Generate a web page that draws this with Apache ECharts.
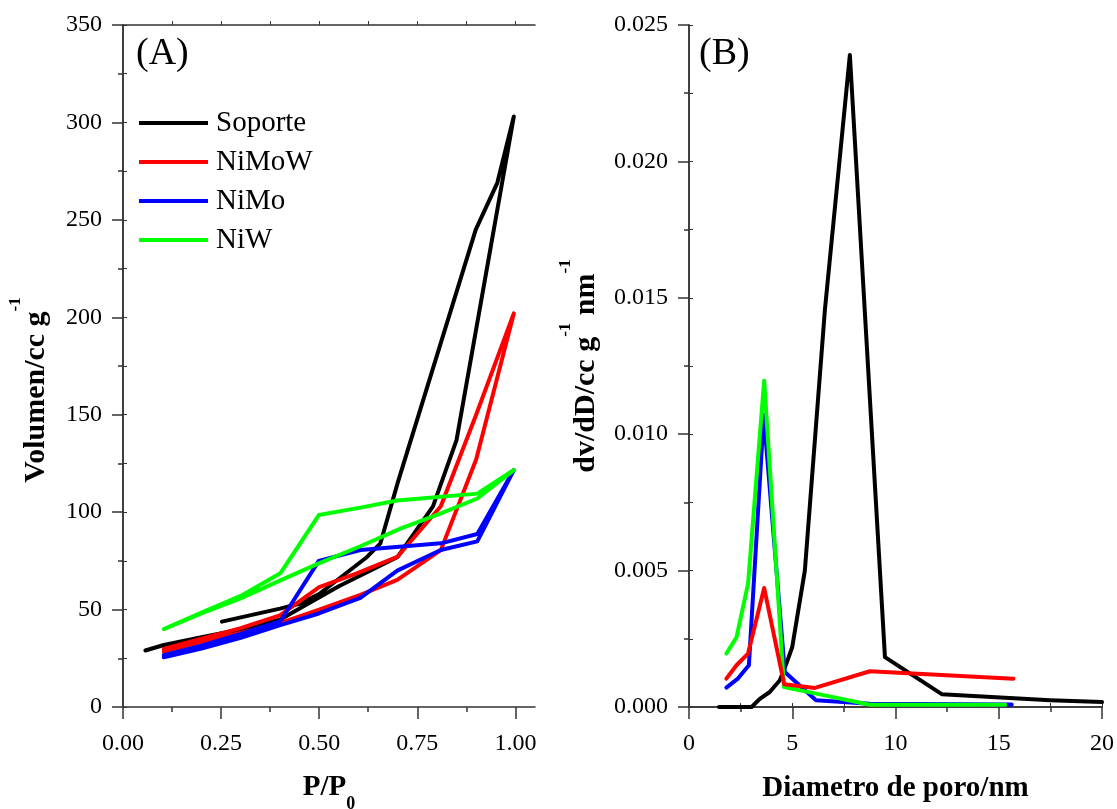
<!DOCTYPE html>
<html>
<head>
<meta charset="utf-8">
<script src="https://cdn.jsdelivr.net/npm/echarts@6/dist/echarts.min.js"></script>
<style>
  html, body { margin: 0; padding: 0; background: #ffffff; }
  #chart { width: 1117px; height: 809px; }
</style>
</head>
<body>
<div id="chart"></div>
<script>
// ---- (A) N2 isotherms: [P/P0, volume cc/g], adsorption branch followed by desorption branch
const soporteIso = [
  [0.057, 29], [0.104, 31.8], [0.2, 35.8], [0.3, 39.8], [0.4, 44.8], [0.45, 50.5], [0.55, 62],
  [0.7, 77], [0.79, 103], [0.85, 137], [0.996, 303],
  [0.954, 269], [0.899, 245], [0.7, 115], [0.656, 84], [0.622, 77], [0.5, 58], [0.45, 53],
  [0.4, 50.5], [0.252, 43.8]
];
const nimowIso = [
  [0.104, 28.4], [0.2, 33.5], [0.3, 38], [0.4, 43], [0.5, 50], [0.605, 57.5], [0.699, 65.2],
  [0.81, 80.5], [0.9, 127], [0.996, 202],
  [0.9, 150], [0.81, 103], [0.699, 77], [0.596, 68.6], [0.5, 61.5], [0.4, 47], [0.3, 40.5],
  [0.2, 35], [0.104, 29.8]
];
const nimoIso = [
  [0.104, 25.5], [0.2, 30], [0.3, 35.5], [0.401, 42], [0.499, 48], [0.605, 56], [0.699, 70],
  [0.81, 80.6], [0.903, 85], [0.996, 121.6],
  [0.903, 88.8], [0.81, 84], [0.605, 80.6], [0.499, 75], [0.401, 44], [0.3, 37.5], [0.2, 31.5],
  [0.104, 26.6]
];
const niwIso = [
  [0.104, 40], [0.2, 48], [0.3, 55.7], [0.401, 65], [0.499, 73.7], [0.605, 82.5], [0.707, 91.5],
  [0.81, 99.4], [0.903, 107], [0.996, 121.6],
  [0.903, 109.5], [0.699, 106], [0.605, 102.3], [0.499, 98.5], [0.401, 68.6], [0.3, 57],
  [0.2, 48.5], [0.104, 40]
];

// ---- (B) pore size distributions: [diameter nm, dv/dD]
const soportePsd = [
  [1.45, 0], [3.03, 0], [3.43, 0.0003], [3.91, 0.00055], [4.4, 0.00098], [4.72, 0.0016],
  [5.0, 0.0022], [5.61, 0.005], [6.58, 0.01455], [7.79, 0.0239], [9.49, 0.00183],
  [12.24, 0.00047], [17.49, 0.00025], [20, 0.00018]
];
const nimowPsd = [
  [1.81, 0.00104], [2.3, 0.00153], [2.86, 0.00196], [3.64, 0.00436], [4.61, 0.00083],
  [6.1, 0.0007], [8.76, 0.00131], [15.71, 0.00104]
];
const nimoPsd = [
  [1.81, 0.00071], [2.38, 0.00105], [2.9, 0.00153], [3.62, 0.0107], [4.64, 0.00128],
  [6.15, 0.00025], [8.76, 0.00012], [15.63, 0.00009]
];
const niwPsd = [
  [1.81, 0.00196], [2.3, 0.00255], [2.86, 0.00452], [3.64, 0.01196], [4.6, 0.00073],
  [6.1, 0.0005], [8.76, 0.00008], [15.31, 0.00008]
];

// ---- axis tick values
const pressureMajor = [0, 0.25, 0.5, 0.75, 1.0];
const pressureMinor = [0.125, 0.375, 0.625, 0.875];
const pressureTop = [0.125, 0.25, 0.375, 0.5, 0.625, 0.75, 0.875, 1.0];

const seriesNames = ['Soporte', 'NiMoW', 'NiMo', 'NiW'];
const seriesColors = { Soporte: '#000000', NiMoW: '#ff0000', NiMo: '#0000ff', NiW: '#00ff00' };

const FONT = '"Liberation Serif", "Times New Roman", serif';
const AXIS_COLOR = '#333333';

const chart = echarts.init(document.getElementById('chart'), null, { renderer: 'canvas' });

function lineSeries(name, data, xi, yi, z) {
  const c = seriesColors[name];
  return {
    name, type: 'line', data, xAxisIndex: xi, yAxisIndex: yi,
    symbol: 'none', showSymbol: false, z: z,
    lineStyle: { width: 4, color: c, join: 'round', cap: 'round' },
    itemStyle: { color: c },
    emphasis: { disabled: true }
  };
}

const tickLabel = { fontSize: 24, fontFamily: FONT, color: '#000' };
const nameStyle = {
  fontSize: 30, fontWeight: 'bold', fontFamily: FONT, color: '#000',
  rich: {
    main: { fontSize: 30, fontWeight: 'bold', fontFamily: FONT, color: '#000', lineHeight: 30, verticalAlign: 'top', padding: [14, 0, 0, 0] },
    sup: { fontSize: 17, fontWeight: 'bold', fontFamily: FONT, color: '#000', lineHeight: 17, verticalAlign: 'top' },
    xm: { fontSize: 29, fontWeight: 'bold', fontFamily: FONT, color: '#000', lineHeight: 29, verticalAlign: 'top' },
    sub: { fontSize: 18, fontWeight: 'bold', fontFamily: FONT, color: '#000', lineHeight: 18, verticalAlign: 'top', padding: [22, 0, 0, 0] }
  }
};

const option = {
  animation: false,
  backgroundColor: '#ffffff',
  title: [
    { text: '(A)', left: 136, top: 35, padding: 0, textStyle: { fontSize: 38, fontWeight: 'normal', fontFamily: FONT, color: '#000' } },
    { text: '(B)', left: 699, top: 35, padding: 0, textStyle: { fontSize: 38, fontWeight: 'normal', fontFamily: FONT, color: '#000' } }
  ],
  legend: {
    data: seriesNames,
    orient: 'vertical',
    left: 139, top: 108,
    padding: 0,
    icon: 'rect',
    itemWidth: 69, itemHeight: 4, itemGap: 9,
    selectedMode: false,
    textStyle: { fontSize: 29, fontFamily: FONT, color: '#000', lineHeight: 30, padding: [0, 0, 0, 3] }
  },
  grid: [
    { left: 123, top: 25, width: 412, height: 682, outerBoundsMode: 'none' },
    { left: 689, top: 25, width: 413, height: 682, outerBoundsMode: 'none' }
  ],
  xAxis: [
    { // (A) bottom: major ticks + labels
      gridIndex: 0, type: 'value', position: 'bottom', min: 0, max: 1.05, interval: 0.25,
      axisLine: { show: true, lineStyle: { color: AXIS_COLOR, width: 1.5 } },
      axisTick: { show: true, inside: false, length: 12, customValues: pressureMajor, lineStyle: { color: AXIS_COLOR, width: 1.5 } },
      axisLabel: { show: true, customValues: pressureMajor, margin: 25, formatter: v => Number(v).toFixed(2), ...tickLabel },
      splitLine: { show: false },
      name: '{xm|P/P}{sub|0}', nameLocation: 'middle', nameGap: 66, nameTextStyle: nameStyle
    },
    { // (A) bottom minor ticks
      gridIndex: 0, type: 'value', position: 'bottom', min: 0, max: 1.05, interval: 0.125,
      axisLine: { show: false },
      axisTick: { show: true, inside: false, length: 5, customValues: pressureMinor, lineStyle: { color: AXIS_COLOR, width: 1.5 } },
      axisLabel: { show: false }, splitLine: { show: false }
    },
    { // (A) top frame
      gridIndex: 0, type: 'value', position: 'top', min: 0, max: 1.05, interval: 0.125,
      axisLine: { show: true, lineStyle: { color: AXIS_COLOR, width: 1.5 } },
      axisTick: { show: true, inside: false, length: 4, customValues: pressureTop, lineStyle: { color: AXIS_COLOR, width: 1 } },
      axisLabel: { show: false }, splitLine: { show: false }
    },
    { // (B) bottom
      gridIndex: 1, type: 'value', position: 'bottom', min: 0, max: 20, interval: 5,
      axisLine: { show: true, lineStyle: { color: AXIS_COLOR, width: 1.5 } },
      axisTick: { show: true, inside: false, length: 12, lineStyle: { color: AXIS_COLOR, width: 1.5 } },
      minorTick: { show: true, splitNumber: 2, length: 5, lineStyle: { color: AXIS_COLOR, width: 1.5 } },
      axisLabel: { show: true, margin: 25, ...tickLabel },
      splitLine: { show: false }, minorSplitLine: { show: false },
      name: '{xm|Diametro de poro/nm}', nameLocation: 'middle', nameGap: 67, nameTextStyle: nameStyle
    },
    { // (B) top frame
      gridIndex: 1, type: 'value', position: 'top', min: 0, max: 20, interval: 2.5,
      axisLine: { show: true, lineStyle: { color: AXIS_COLOR, width: 1.5 } },
      axisTick: { show: true, inside: false, length: 4, lineStyle: { color: AXIS_COLOR, width: 1 } },
      axisLabel: { show: false }, splitLine: { show: false }
    }
  ],
  yAxis: [
    { // (A) left
      gridIndex: 0, type: 'value', position: 'left', min: 0, max: 350, interval: 50,
      axisLine: { show: true, lineStyle: { color: AXIS_COLOR, width: 1.5 } },
      axisTick: { show: true, inside: false, length: 11, lineStyle: { color: AXIS_COLOR, width: 1.5 } },
      minorTick: { show: true, splitNumber: 2, length: 5, lineStyle: { color: AXIS_COLOR, width: 1.5 } },
      axisLabel: { show: true, margin: 21, ...tickLabel },
      splitLine: { show: false }, minorSplitLine: { show: false },
      name: '{main|Volumen/cc g}{sup|-1}', nameLocation: 'middle', nameGap: 86, nameRotate: 90,
      nameTextStyle: { ...nameStyle, padding: [0, 48, 0, 0] }
    },
    { // (A) right frame
      gridIndex: 0, type: 'value', position: 'right', min: 0, max: 350, interval: 25,
      axisLine: { show: true, lineStyle: { color: AXIS_COLOR, width: 1.5 } },
      axisTick: { show: true, inside: false, length: 4, lineStyle: { color: AXIS_COLOR, width: 1 } },
      axisLabel: { show: false }, splitLine: { show: false }
    },
    { // (B) left
      gridIndex: 1, type: 'value', position: 'left', min: 0, max: 0.025, interval: 0.005,
      axisLine: { show: true, lineStyle: { color: AXIS_COLOR, width: 1.5 } },
      axisTick: { show: true, inside: false, length: 11, lineStyle: { color: AXIS_COLOR, width: 1.5 } },
      minorTick: { show: true, splitNumber: 2, length: 5, lineStyle: { color: AXIS_COLOR, width: 1.5 } },
      axisLabel: { show: true, margin: 21, formatter: v => Number(v).toFixed(3), ...tickLabel },
      splitLine: { show: false }, minorSplitLine: { show: false },
      name: '{main|dv/dD/cc g}{sup|-1}{main| nm}{sup|-1}', nameLocation: 'middle', nameGap: 102, nameRotate: 90,
      nameTextStyle: nameStyle
    },
    { // (B) right frame
      gridIndex: 1, type: 'value', position: 'right', min: 0, max: 0.025, interval: 0.0025,
      axisLine: { show: true, lineStyle: { color: AXIS_COLOR, width: 1.5 } },
      axisTick: { show: true, inside: false, length: 4, lineStyle: { color: AXIS_COLOR, width: 1 } },
      axisLabel: { show: false }, splitLine: { show: false }
    }
  ],
  series: [
    lineSeries('Soporte', soporteIso, 0, 0, 2),
    lineSeries('NiMoW', nimowIso, 0, 0, 3),
    lineSeries('NiMo', nimoIso, 0, 0, 4),
    lineSeries('NiW', niwIso, 0, 0, 5),
    lineSeries('Soporte', soportePsd, 3, 2, 2),
    lineSeries('NiMo', nimoPsd, 3, 2, 3),
    lineSeries('NiW', niwPsd, 3, 2, 4),
    lineSeries('NiMoW', nimowPsd, 3, 2, 5)
  ]
};

chart.setOption(option);
</script>
</body>
</html>
